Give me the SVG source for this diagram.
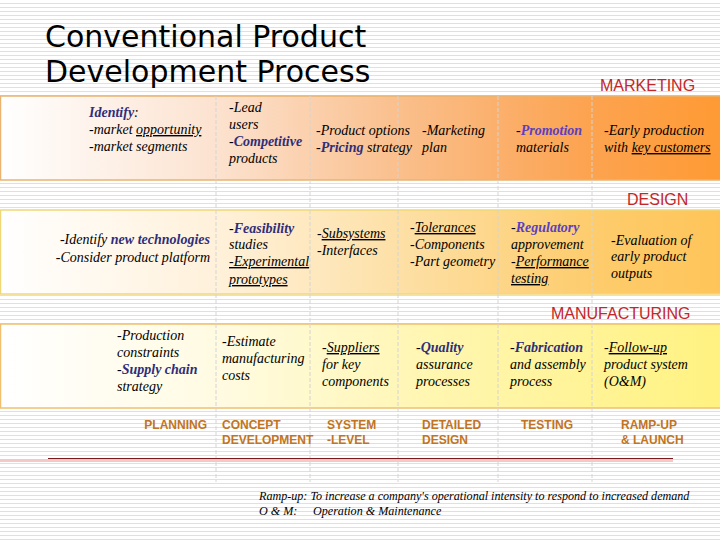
<svg xmlns="http://www.w3.org/2000/svg" width="720" height="540" viewBox="0 0 720 540">
<defs>
<pattern id="stripes" width="8" height="4" patternUnits="userSpaceOnUse">
<rect width="8" height="4" fill="#ffffff"/>
<rect y="3" width="8" height="1" fill="#e0e0e0"/>
</pattern>
<linearGradient id="gMkt" x1="0" y1="0" x2="1" y2="0">
<stop offset="0" stop-color="#ffffff"/>
<stop offset="0.3" stop-color="#fce2cf"/>
<stop offset="0.55" stop-color="#fabf8c"/>
<stop offset="0.8" stop-color="#fca452"/>
<stop offset="1" stop-color="#ff9a33"/>
</linearGradient>
<linearGradient id="gDes" x1="0" y1="0" x2="1" y2="0">
<stop offset="0" stop-color="#ffffff"/>
<stop offset="0.3" stop-color="#fff1da"/>
<stop offset="0.55" stop-color="#fde0a6"/>
<stop offset="0.82" stop-color="#fdcc6c"/>
<stop offset="1" stop-color="#ffc458"/>
</linearGradient>
<linearGradient id="gMfg" x1="0" y1="0" x2="1" y2="0">
<stop offset="0" stop-color="#ffffff"/>
<stop offset="0.3" stop-color="#fffbe2"/>
<stop offset="0.6" stop-color="#fff6b0"/>
<stop offset="1" stop-color="#fff280"/>
</linearGradient>
<style>
.t{font-family:"Liberation Serif",serif;font-style:italic;font-size:14px;fill:#000}
.b{font-weight:bold;fill:#2e2e7a}
.p{font-weight:bold;fill:#5a40c0}
.u{text-decoration:underline}
.hd{font-family:"Liberation Sans",Arial,sans-serif;font-size:16px;fill:#c0282c}
.ph{font-family:"Liberation Sans",Arial,sans-serif;font-size:12px;font-weight:bold;fill:#c07424}
.ft{font-family:"Liberation Serif",serif;font-style:italic;font-size:12.1px;fill:#000}
.title{font-family:"DejaVu Sans",sans-serif;font-size:30px;fill:#000}
.vl{stroke:#d4d4d4;stroke-width:1;stroke-dasharray:4 2}
</style>
</defs>
<rect width="720" height="540" fill="url(#stripes)"/>

<g id="title">
<text class="title" x="45" y="47">Conventional Product</text>
<text class="title" x="45" y="82">Development Process</text>
</g>

<g id="bands">
<rect x="0.5" y="96" width="725" height="84" fill="url(#gMkt)" stroke="#e8b470" stroke-width="1.5"/>
<rect x="0.5" y="210" width="725" height="84" fill="url(#gDes)" stroke="#f0d878" stroke-width="1.5"/>
<rect x="0.5" y="324" width="725" height="84" fill="url(#gMfg)" stroke="#f0c070" stroke-width="1.5"/>
</g>

<g id="grid">
<line class="vl" x1="216" y1="96" x2="216" y2="482"/>
<line class="vl" x1="310" y1="96" x2="310" y2="482"/>
<line class="vl" x1="398" y1="96" x2="398" y2="482"/>
<line class="vl" x1="498" y1="96" x2="498" y2="482"/>
<line class="vl" x1="592" y1="96" x2="592" y2="482"/>
</g>

<g id="labels">
<text class="hd" x="600" y="91">MARKETING</text>
<text class="hd" x="627" y="205">DESIGN</text>
<text class="hd" x="551" y="319">MANUFACTURING</text>
</g>

<g id="marketing">
<g id="m1"><text class="t" x="89" y="117"><tspan class="b">Identify</tspan>:</text>
<text class="t" x="89" y="134">-market <tspan class="u">opportunity</tspan></text>
<text class="t" x="89" y="151">-market segments</text></g>
<g id="m2"><text class="t" x="229" y="112">-Lead</text>
<text class="t" x="229" y="129">users</text>
<text class="t" x="229" y="146">-<tspan class="b">Competitive</tspan></text>
<text class="t" x="229" y="163">products</text></g>
<g id="m3"><text class="t" x="316" y="135">-Product options</text>
<text class="t" x="316" y="152">-<tspan class="b">Pricing</tspan> strategy</text></g>
<g id="m4"><text class="t" x="422" y="135">-Marketing</text>
<text class="t" x="422" y="152">plan</text></g>
<g id="m5"><text class="t" x="516" y="135">-<tspan class="p">Promotion</tspan></text>
<text class="t" x="516" y="152">materials</text></g>
<g id="m6"><text class="t" x="604" y="135">-Early production</text>
<text class="t" x="604" y="152">with <tspan class="u">key customers</tspan></text></g>
</g>

<g id="design">
<g id="d1"><text class="t" x="210" y="244" text-anchor="end">-Identify <tspan class="b">new technologies</tspan></text>
<text class="t" x="210" y="262" text-anchor="end">-Consider product platform</text></g>
<g id="d2"><text class="t" x="229" y="233">-<tspan class="b">Feasibility</tspan></text>
<text class="t" x="229" y="249">studies</text>
<text class="t" x="229" y="266"><tspan class="u">-Experimental</tspan></text>
<text class="t" x="229" y="284"><tspan class="u">prototypes</tspan></text></g>
<g id="d3"><text class="t" x="317" y="238">-<tspan class="u">Subsystems</tspan></text>
<text class="t" x="317" y="255">-Interfaces</text></g>
<g id="d4"><text class="t" x="410" y="232">-<tspan class="u">Tolerances</tspan></text>
<text class="t" x="410" y="249">-Components</text>
<text class="t" x="410" y="266">-Part geometry</text></g>
<g id="d5"><text class="t" x="511" y="232">-<tspan class="p">Regulatory</tspan></text>
<text class="t" x="511" y="249">approvement</text>
<text class="t" x="511" y="266">-<tspan class="u">Performance</tspan></text>
<text class="t" x="511" y="283"><tspan class="u">testing</tspan></text></g>
<g id="d6"><text class="t" x="611" y="245">-Evaluation of</text>
<text class="t" x="611" y="261">early product</text>
<text class="t" x="611" y="278">outputs</text></g>
</g>

<g id="manufacturing">
<g id="f1"><text class="t" x="117" y="340">-Production</text>
<text class="t" x="117" y="357">constraints</text>
<text class="t" x="117" y="374">-<tspan class="b">Supply chain</tspan></text>
<text class="t" x="117" y="391">strategy</text></g>
<g id="f2"><text class="t" x="222" y="346">-Estimate</text>
<text class="t" x="222" y="363">manufacturing</text>
<text class="t" x="222" y="380">costs</text></g>
<g id="f3"><text class="t" x="322" y="352">-<tspan class="u">Suppliers</tspan></text>
<text class="t" x="322" y="369">for key</text>
<text class="t" x="322" y="386">components</text></g>
<g id="f4"><text class="t" x="416" y="352">-<tspan class="b">Quality</tspan></text>
<text class="t" x="416" y="369">assurance</text>
<text class="t" x="416" y="386">processes</text></g>
<g id="f5"><text class="t" x="510" y="352">-<tspan class="b">Fabrication</tspan></text>
<text class="t" x="510" y="369">and assembly</text>
<text class="t" x="510" y="386">process</text></g>
<g id="f6"><text class="t" x="604" y="352">-<tspan class="u">Follow-up</tspan></text>
<text class="t" x="604" y="369">product system</text>
<text class="t" x="604" y="386">(O&amp;M)</text></g>
</g>

<g id="phases">
<text class="ph" x="207" y="429" text-anchor="end">PLANNING</text>
<text class="ph" x="222" y="429">CONCEPT</text>
<text class="ph" x="222" y="444">DEVELOPMENT</text>
<text class="ph" x="327" y="429">SYSTEM</text>
<text class="ph" x="327" y="444">-LEVEL</text>
<text class="ph" x="422" y="429">DETAILED</text>
<text class="ph" x="422" y="444">DESIGN</text>
<text class="ph" x="521" y="429">TESTING</text>
<text class="ph" x="621" y="429">RAMP-UP</text>
<text class="ph" x="621" y="444">&amp; LAUNCH</text>
</g>

<g id="footer">
<rect x="0" y="459" width="673" height="3" fill="#f4c8c8"/>
<line x1="48" y1="458.5" x2="673" y2="458.5" stroke="#7a1a1a" stroke-width="1"/>
<text class="ft" x="259" y="500">Ramp-up: To increase a company's operational intensity to respond to increased demand</text>
<text class="ft" x="259" y="515">O &amp; M:</text>
<text class="ft" x="313" y="515">Operation &amp; Maintenance</text>
</g>
</svg>
